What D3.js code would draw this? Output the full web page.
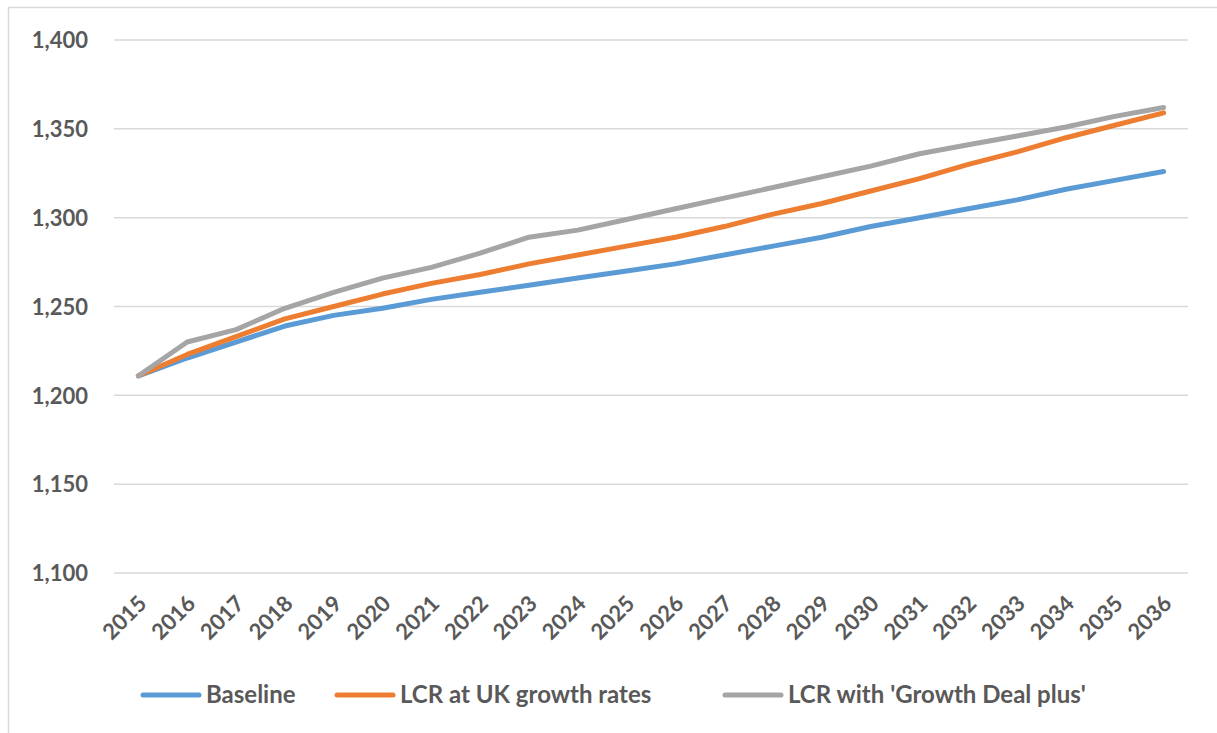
<!DOCTYPE html>
<html>
<head>
<meta charset="utf-8">
<script src="https://cdn.jsdelivr.net/npm/d3@7"></script>
<style>
  body { margin: 0; background: #fff; }
  text { font-family: Lato, "Open Sans", sans-serif; font-weight: bold; fill: #595959; }
</style>
</head>
<body>
<div id="my_dataviz"></div>
<script>
var years = ["2015","2016","2017","2018","2019","2020","2021","2022","2023","2024","2025",
             "2026","2027","2028","2029","2030","2031","2032","2033","2034","2035","2036"];
var baseline = [1211,1221,1230,1239,1245,1249,1254,1258,1262,1266,1270,1274,1279,1284,1289,1295,1300,1305,1310,1316,1321,1326];
var lcrUk = [1211,1223,1233,1243,1250,1257,1263,1268,1274,1279,1284,1289,1295,1302,1308,1315,1322,1330,1337,1345,1352,1359];
var lcrGrowth = [1211,1230,1237,1249,1258,1266,1272,1280,1289,1293,1299,1305,1311,1317,1323,1329,1336,1341,1346,1351,1357,1362];
var seriesNames = ["Baseline", "LCR at UK growth rates", "LCR with 'Growth Deal plus'"];
var seriesColors = ["#5B9BD5", "#ED7D31", "#A5A5A5"];
var yTicks = [1100, 1150, 1200, 1250, 1300, 1350, 1400];

var W = 1217, H = 733;
var margin = {top: 40, right: 29, bottom: 160, left: 114};
var width = W - margin.left - margin.right;
var height = 573 - margin.top;

var svg = d3.select("#my_dataviz")
    .append("svg")
    .attr("width", W)
    .attr("height", H);

// outer chart border
svg.append("rect")
    .attr("x", 8.5).attr("y", 7.5)
    .attr("width", W + 10).attr("height", H + 10)
    .attr("fill", "none")
    .attr("stroke", "#D9D9D9")
    .attr("stroke-width", 1.5);

var g = svg.append("g")
    .attr("transform", "translate(" + margin.left + "," + margin.top + ")");

var xScale = d3.scalePoint()
    .domain(years)
    .range([0, width])
    .padding(0.5);

var yScale = d3.scaleLinear()
    .domain([1100, 1400])
    .range([height, 0]);

// gridlines
g.append("g")
    .selectAll("line")
    .data(yTicks)
    .enter()
    .append("line")
    .attr("x1", 0).attr("x2", width)
    .attr("y1", function(d) { return yScale(d); })
    .attr("y2", function(d) { return yScale(d); })
    .attr("stroke", "#D9D9D9")
    .attr("stroke-width", 1.5);

// Y axis
var yAxis = g.append("g")
    .call(d3.axisLeft(yScale).tickValues(yTicks).tickSize(0).tickPadding(26).tickFormat(d3.format(",")));
yAxis.select(".domain").remove();
yAxis.selectAll("text")
    .attr("font-size", "22px")
    .attr("dy", "0.35em")
    .style("font-family", "Lato, 'Open Sans', sans-serif");

// X axis
var xAxis = g.append("g")
    .attr("transform", "translate(0," + height + ")")
    .call(d3.axisBottom(xScale).tickSize(0));
xAxis.select(".domain").remove();
xAxis.selectAll("text")
    .attr("font-size", "22px")
    .style("text-anchor", "end")
    .style("font-family", "Lato, 'Open Sans', sans-serif")
    .attr("dy", null)
    .attr("y", 0)
    .attr("transform", "translate(9,32) rotate(-45)");

// lines
var allSeries = [baseline, lcrUk, lcrGrowth];
var line = d3.line()
    .x(function(d, i) { return xScale(years[i]); })
    .y(function(d) { return yScale(d); });

g.selectAll(".series")
    .data(allSeries)
    .enter()
    .append("path")
    .attr("class", "series")
    .attr("d", line)
    .attr("fill", "none")
    .attr("stroke", function(d, i) { return seriesColors[i]; })
    .attr("stroke-width", 5)
    .attr("stroke-linejoin", "round")
    .attr("stroke-linecap", "round");

// legend
var legendX = [143, 337, 725];
var legend = svg.selectAll(".legend")
    .data(seriesNames)
    .enter()
    .append("g")
    .attr("class", "legend")
    .attr("transform", function(d, i) { return "translate(" + legendX[i] + ",695)"; });

legend.append("line")
    .attr("x1", 0).attr("x2", 56)
    .attr("stroke", function(d, i) { return seriesColors[i]; })
    .attr("stroke-width", 5)
    .attr("stroke-linecap", "round");

legend.append("text")
    .attr("x", 63)
    .attr("dy", "0.35em")
    .attr("font-size", "24px")
    .text(function(d) { return d; });
</script>
</body>
</html>
